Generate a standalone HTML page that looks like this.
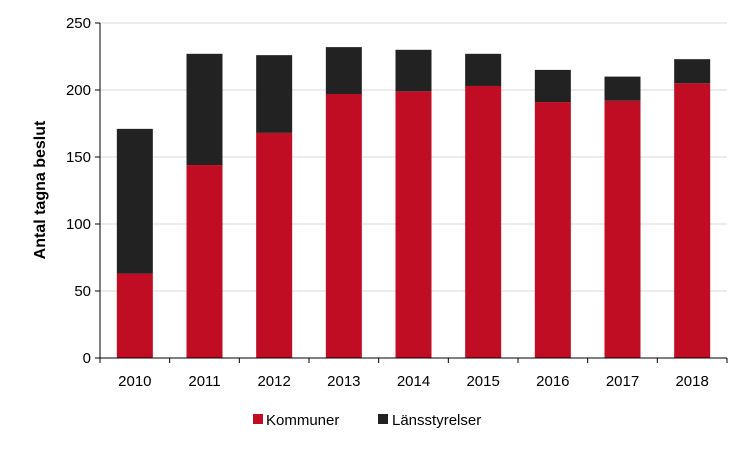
<!DOCTYPE html>
<html><head><meta charset="utf-8">
<style>
body{margin:0;background:#fff;font-family:"Liberation Sans",Arial,sans-serif;}
svg text{font-family:"Liberation Sans",Arial,sans-serif;}
</style></head><body>
<svg id="chart" width="750" height="450" viewBox="0 0 750 450" xmlns="http://www.w3.org/2000/svg"></svg>
<script>
const categories = ["2010","2011","2012","2013","2014","2015","2016","2017","2018"];
const kommuner = [63, 144, 168, 197, 199, 203, 191, 192, 205];
const lansstyrelser = [108, 83, 58, 35, 31, 24, 24, 18, 18];
const yTicks = [0, 50, 100, 150, 200, 250];

const svg = document.getElementById('chart');
const NS = 'http://www.w3.org/2000/svg';
const X0 = 100, X1 = 727, Y0 = 358, Y1 = 23, YMAX = 250;
const band = (X1 - X0) / categories.length;
const barW = 36;
function y(v){ return Y0 - (v / YMAX) * (Y0 - Y1); }
function xc(i){ return X0 + band * (i + 0.5); }
function mk(tag, attrs){ const e = document.createElementNS(NS, tag); for (const k in attrs) e.setAttribute(k, attrs[k]); svg.appendChild(e); return e; }

yTicks.forEach(t => {
  if (t > 0) {
    const g = mk('line', {x1: X0, x2: X1, y1: y(t), y2: y(t), stroke: '#d9d9d9', 'stroke-width': 1});
    
    
  }
  const tk = mk('line', {x1: X0 - 5, x2: X0, y1: y(t), y2: y(t), stroke: '#000'});
  
  
  const lb = mk('text', {x: X0 - 9, y: y(t) + 5, 'text-anchor': 'end', 'font-size': 15, fill: '#000'});
  lb.textContent = t;
  
  
});

categories.forEach((c, i) => {
  const cx = xc(i);
  const r = mk('rect', {x: cx - barW/2, y: y(kommuner[i]), width: barW, height: Y0 - y(kommuner[i]), fill: '#c00d23'});
  
  
  const tot = kommuner[i] + lansstyrelser[i];
  const b = mk('rect', {x: cx - barW/2, y: y(tot), width: barW, height: y(kommuner[i]) - y(tot), fill: '#222222'});
  
  
  const lb = mk('text', {x: cx, y: 386, 'text-anchor': 'middle', 'font-size': 15, fill: '#000'});
  lb.textContent = c;
  
  
});
for (let i = 0; i <= categories.length; i++) {
  const tx = X0 + band * i;
  const tk = mk('line', {x1: tx, x2: tx, y1: Y0, y2: Y0 + 5, stroke: '#000'});
  
  
}
const ya = mk('line', {x1: X0, x2: X0, y1: Y1, y2: Y0, stroke: '#000'});


const xa = mk('line', {x1: X0, x2: X1, y1: Y0, y2: Y0, stroke: '#000'});



const yt = mk('text', {x: 0, y: 0, transform: 'translate(45,190) rotate(-90)', 'text-anchor': 'middle', 'font-size': 16, 'font-weight': 'bold', fill: '#000'});
yt.textContent = 'Antal tagna beslut';



const l1 = mk('rect', {x: 253, y: 414, width: 10, height: 10, fill: '#c00d23'});


const t1 = mk('text', {x: 266, y: 425, 'font-size': 15, fill: '#000'});
t1.textContent = 'Kommuner';


const l2 = mk('rect', {x: 378, y: 414, width: 10, height: 10, fill: '#222222'});


const t2 = mk('text', {x: 392, y: 425, 'font-size': 15, fill: '#000'});
t2.textContent = 'Länsstyrelser';


</script>
</body></html>
